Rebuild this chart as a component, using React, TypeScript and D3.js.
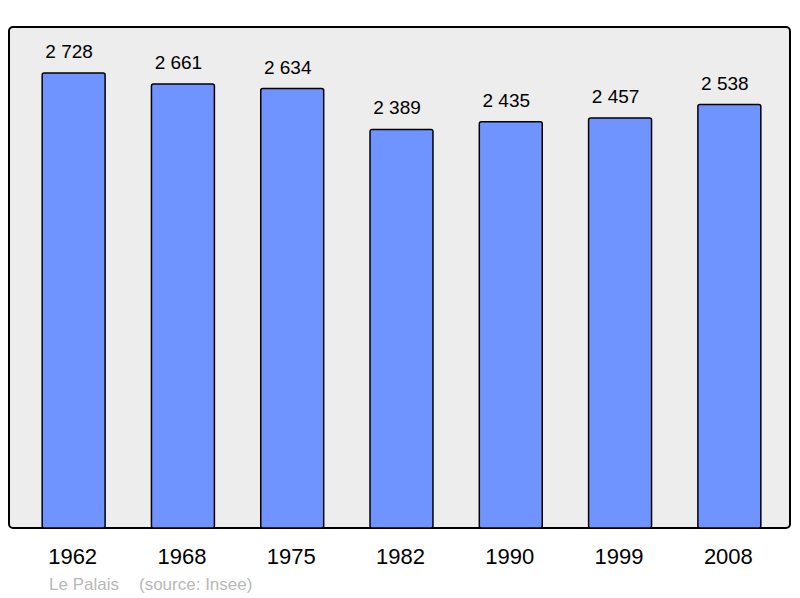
import { useEffect } from "react";
import * as d3 from "d3";

const years = ["1962", "1968", "1975", "1982", "1990", "1999", "2008"];
const population = [2728, 2661, 2634, 2389, 2435, 2457, 2538];
const commune = "Le Palais";
const source = "(source: Insee)";

const App = () => {
  useEffect(() => {
    document.body.style.margin = "0";
  }, []);

  const width = 800;
  const height = 598;
  const frame = { left: 9, top: 27, right: 790, bottom: 528 };

  const x = d3
    .scaleBand<string>()
    .domain(years)
    .range([19, 784])
    .paddingInner(0.424)
    .paddingOuter(0.212);

  const y = d3.scaleLinear().domain([0, 3003]).range([frame.bottom, frame.top]);

  const fmt = (v: number) => d3.format(",")(v).replace(",", " ");

  return (
    <svg
      width={width}
      height={height}
      style={{ position: "absolute", left: 0, top: 0, fontFamily: "'Liberation Sans', Arial, sans-serif" }}
    >
      <rect
        x={frame.left}
        y={frame.top}
        width={frame.right - frame.left}
        height={frame.bottom - frame.top}
        rx={4}
        fill="#ededed"
        stroke="#000"
        strokeWidth={2}
      />
      {years.map((yr, i) => (
        <g key={yr}>
          <rect
            x={x(yr)}
            y={y(population[i])}
            width={x.bandwidth()}
            height={frame.bottom - y(population[i])}
            rx={2}
            fill="#7094ff"
            stroke="#000"
            strokeWidth={1.5}
          />
          <text
            x={(x(yr) ?? 0) + x.bandwidth() / 2 - 4.5}
            y={y(population[i]) - 15}
            textAnchor="middle"
            fontSize={19}
            fill="#000"
          >
            {fmt(population[i])}
          </text>
          <text
            x={(x(yr) ?? 0) + x.bandwidth() / 2 - 1}
            y={564}
            textAnchor="middle"
            fontSize={22}
            fill="#000"
          >
            {yr}
          </text>
        </g>
      ))}
      <text x={49} y={590} fontSize={17} fill="#b8b8b8">
        {commune}
      </text>
      <text x={139} y={590} fontSize={17} fill="#b8b8b8">
        {source}
      </text>
    </svg>
  );
};

export default App;
